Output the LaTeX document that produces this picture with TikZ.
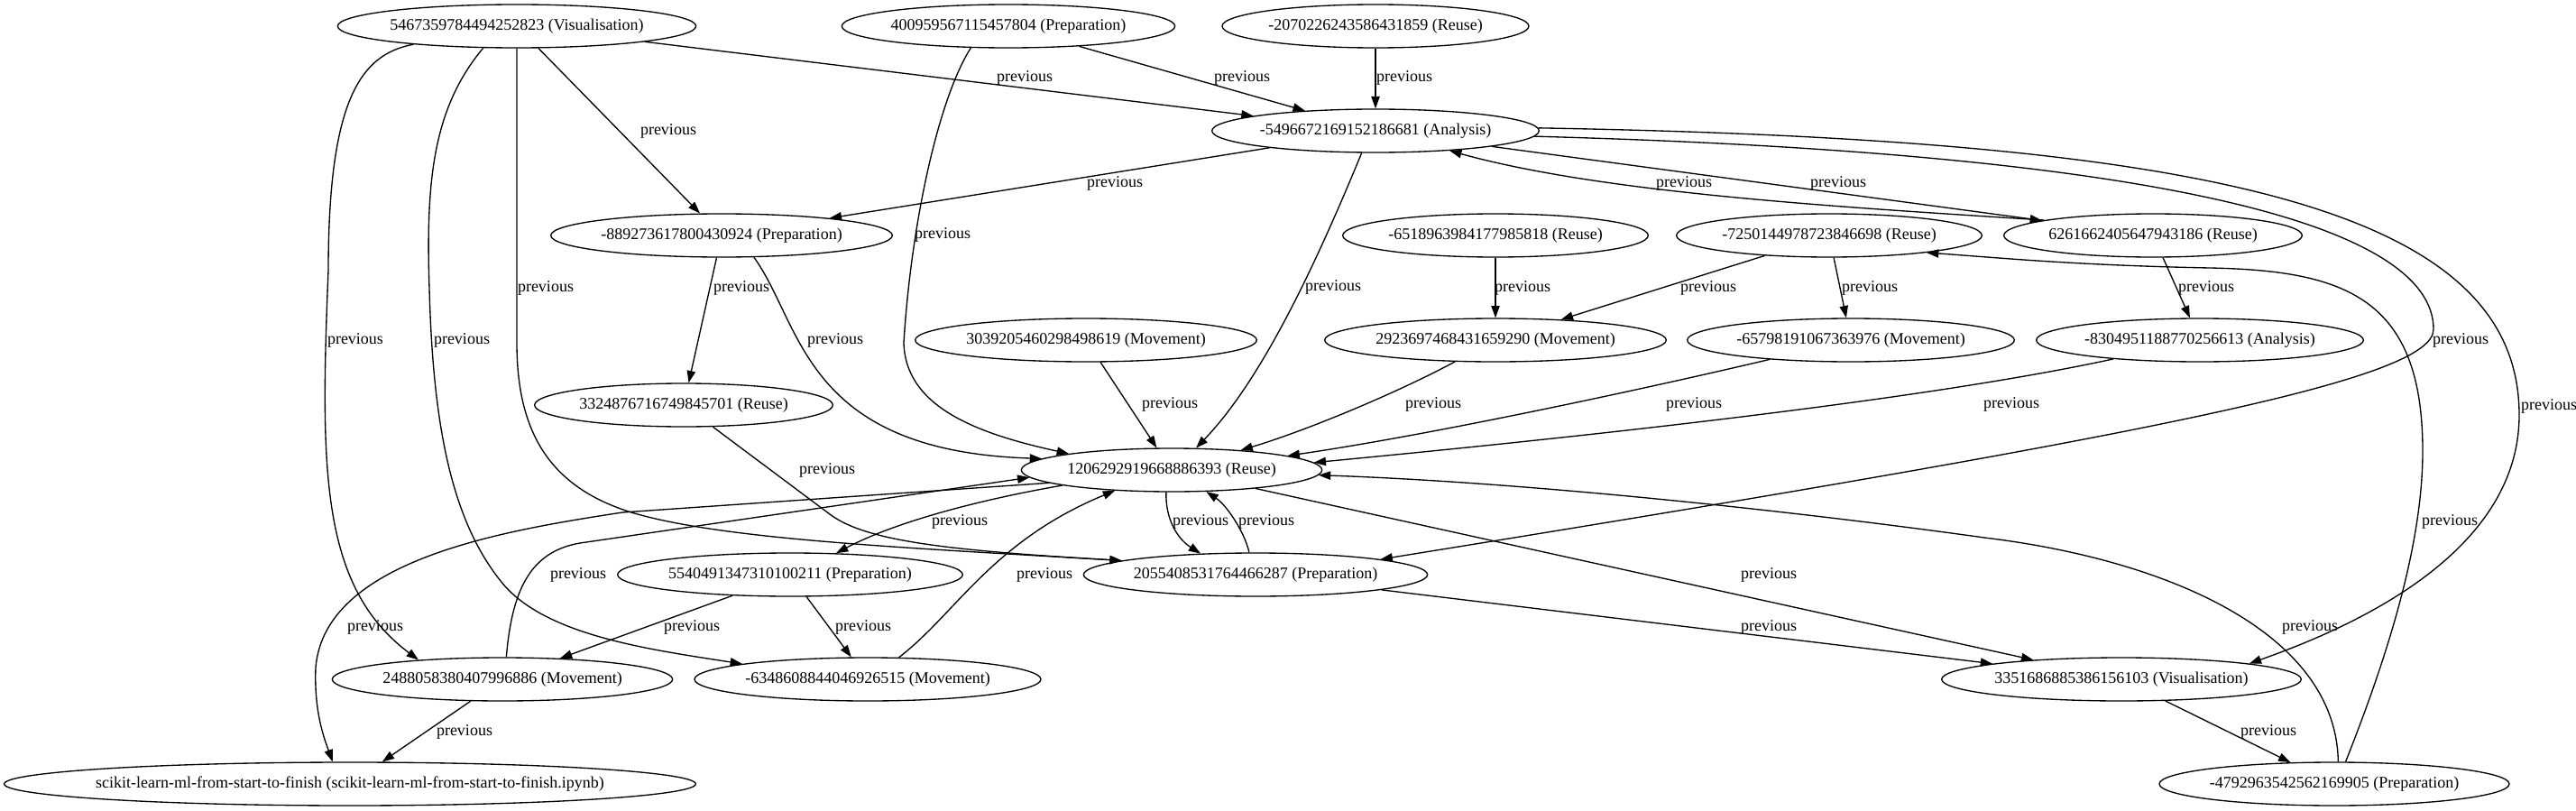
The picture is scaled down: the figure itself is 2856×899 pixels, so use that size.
\documentclass[tikz,border=0pt]{standalone}
\usepackage{fontspec}
\setmainfont{Liberation Serif}
\usepackage{tikz}
\usetikzlibrary{arrows.meta,shapes.geometric}

\begin{document}
\begin{tikzpicture}[
  x=0.75pt, y=-0.75pt,
  every node/.style={font=\fontsize{13.5}{16}\selectfont},
  entry/.style={ellipse, draw, line width=1pt, minimum height=36pt, inner xsep=-20pt, inner ysep=0pt},
  edge_label/.style={inner sep=0pt},
  arrow/.style={-{Triangle[length=10pt,width=7pt]}, line width=1pt}
]
\useasboundingbox (0,0) rectangle (2856,899);

% Row 1
\node[entry, minimum width=298pt] (V1) at (573,29) {5467359784494252823 (Visualisation)};
\node[entry, minimum width=277pt] (P1) at (1118,29) {400959567115457804 (Preparation)};
\node[entry, minimum width=255pt] (R1) at (1525,29) {-2070226243586431859 (Reuse)};

% Row 2
\node[entry, minimum width=272pt] (A1) at (1525,145) {-5496672169152186681 (Analysis)};

% Row 3
\node[entry, minimum width=284pt] (P2) at (800,261) {-889273617800430924 (Preparation)};
\node[entry, minimum width=254pt] (R2) at (1658,261) {-6518963984177985818 (Reuse)};
\node[entry, minimum width=254pt] (R3) at (2028,261) {-7250144978723846698 (Reuse)};
\node[entry, minimum width=248pt] (R4) at (2387,261) {6261662405647943186 (Reuse)};

% Row 4
\node[entry, minimum width=284pt] (M1) at (1204,377) {3039205460298498619 (Movement)};
\node[entry, minimum width=284pt] (M2) at (1658,377) {2923697468431659290 (Movement)};
\node[entry, minimum width=272pt] (M3) at (2052,377) {-65798191067363976 (Movement)};
\node[entry, minimum width=272pt] (A2) at (2439,377) {-8304951188770256613 (Analysis)};
\node[entry, minimum width=248pt] (R5) at (758,449) {3324876716749845701 (Reuse)};

% Row 5
\node[entry, minimum width=250pt] (R6) at (1299,521) {1206292919668886393 (Reuse)};

% Row 6
\node[entry, minimum width=287pt] (P3) at (876,637) {5540491347310100211 (Preparation)};
\node[entry, minimum width=286pt] (P4) at (1392,637) {2055408531764466287 (Preparation)};

% Row 7
\node[entry, minimum width=283pt] (M4) at (557,753) {2488058380407996886 (Movement)};
\node[entry, minimum width=288pt] (M5) at (962,753) {-6348608844046926515 (Movement)};
\node[entry, minimum width=299pt] (V2) at (2352,753) {3351686885386156103 (Visualisation)};

% Row 8
\node[entry, minimum width=575pt] (NB) at (388,869) {scikit-learn-ml-from-start-to-finish (scikit-learn-ml-from-start-to-finish.ipynb)};
\node[entry, minimum width=291pt] (P5) at (2588,869) {-4792963542562169905 (Preparation)};

% Edges into the analysis step
\draw[arrow] (V1) -- (A1) node[edge_label, at={(1136,86)}] {previous};
\draw[arrow] (P1) -- (A1) node[edge_label, at={(1377,86)}] {previous};
\draw[arrow] (R1) -- (A1) node[edge_label, at={(1557,86)}] {previous};
\draw[arrow] (V1) -- (P2) node[edge_label, at={(741,145)}] {previous};
\draw[arrow] (A1) -- (P2) node[edge_label, at={(1236,203)}] {previous};
\draw[arrow] (A1) -- (R4) node[edge_label, at={(2038,203)}] {previous};
\draw[arrow] (R4.172) .. controls (2050,230) and (1780,215) .. (A1.345) node[edge_label, at={(1867,203)}] {previous};

% Long arcs on the right
\draw[arrow] (A1.1) .. controls (2450,155) and (2793,230) .. (2793,460) .. controls (2793,580) and (2680,670) .. (V2.7) node[edge_label, at={(2826,450)}] {previous};
\draw[arrow] (A1.358) .. controls (2400,170) and (2698,250) .. (2698,365) .. controls (2698,420) and (2400,480) .. (P4.7) node[edge_label, at={(2728,377)}] {previous};
\draw[arrow] (P5.63) .. controls (2650,720) and (2686,600) .. (2686,500) .. controls (2686,330) and (2600,300) .. (2450,297) .. controls (2300,294) and (2220,286) .. (R3.350) node[edge_label, at={(2716,578)}] {previous};
\draw[arrow] (P5.80) .. controls (2590,700) and (2400,620) .. (2200,596) .. controls (2000,568) and (1700,535) .. (R6.358) node[edge_label, at={(2561,695)}] {previous};

% Row 3 to row 4
\draw[arrow] (R2) -- (M2) node[edge_label, at={(1688,319)}] {previous};
\draw[arrow] (R3) -- (M2) node[edge_label, at={(1894,319)}] {previous};
\draw[arrow] (R3) -- (M3) node[edge_label, at={(2073,319)}] {previous};
\draw[arrow] (R4) -- (A2) node[edge_label, at={(2446,319)}] {previous};
\draw[arrow] (P2) -- (R5) node[edge_label, at={(822,319)}] {previous};

% Into the reuse hub
\draw[arrow] (P1.210) .. controls (1040,110) and (1010,250) .. (1002,380) .. controls (1004,450) and (1080,480) .. (R6.171) node[edge_label, at={(1045,260)}] {previous};
\draw[arrow] (A1.238) .. controls (1460,290) and (1400,420) .. (R6.42) node[edge_label, at={(1478,318)}] {previous};
\draw[arrow] (P2.326) .. controls (890,360) and (890,500) .. (R6.175) node[edge_label, at={(926,377)}] {previous};
\draw[arrow] (M1) -- (R6.124) node[edge_label, at={(1297,448)}] {previous};
\draw[arrow] (M2) .. controls (1540,440) and (1440,480) .. (R6.16) node[edge_label, at={(1589,448)}] {previous};
\draw[arrow] (M3) .. controls (1850,425) and (1600,480) .. (R6.7) node[edge_label, at={(1878,448)}] {previous};
\draw[arrow] (A2) .. controls (2150,440) and (1800,480) .. (R6.3) node[edge_label, at={(2230,448)}] {previous};
\draw[arrow] (M4.80) .. controls (568,650) and (590,608) .. (650,601) -- (R6.183) node[edge_label, at={(641,637)}] {previous};
\draw[arrow] (M5.35) .. controls (1060,680) and (1100,600) .. (R6.200) node[edge_label, at={(1158,637)}] {previous};
\draw[arrow] (P4.106) .. controls (1380,590) and (1360,560) .. (R6.328) node[edge_label, at={(1404,578)}] {previous};

% Left side arcs from the first visualisation
\draw[arrow] (V1.190) .. controls (400,60) and (364,110) .. (364,300) .. controls (355,520) and (355,650) .. (M4.167) node[edge_label, at={(394,377)}] {previous};
\draw[arrow] (V1.213) .. controls (480,120) and (472,200) .. (476,320) .. controls (480,470) and (500,580) .. (560,650) .. controls (610,705) and (720,720) .. (M5.173) node[edge_label, at={(512,377)}] {previous};
\draw[arrow] (V1.270) -- (573,380) .. controls (573,480) and (610,540) .. (700,568) .. controls (800,598) and (1000,607) .. (P4.174) node[edge_label, at={(605,319)}] {previous};
\draw[arrow] (R5) -- (920,570) .. controls (960,600) and (1050,610) .. (P4.174) node[edge_label, at={(917,521)}] {previous};

% Out of the reuse hub
\draw[arrow] (R6.256) .. controls (1292,575) and (1305,597) .. (P4.159) node[edge_label, at={(1331,578)}] {previous};
\draw[arrow] (R6.188) .. controls (1080,555) and (990,580) .. (P3.25) node[edge_label, at={(1064,578)}] {previous};
\draw[arrow] (R6.186) -- (690,568) .. controls (560,588) and (360,620) .. (350,740) .. controls (348,790) and (360,820) .. (NB.128) node[edge_label, at={(416,695)}] {previous};
\draw[arrow] (R6) -- (V2) node[edge_label, at={(1961,637)}] {previous};

% Lower rows
\draw[arrow] (P3) -- (M4) node[edge_label, at={(767,695)}] {previous};
\draw[arrow] (P3) -- (M5) node[edge_label, at={(957,695)}] {previous};
\draw[arrow] (M4) -- (NB) node[edge_label, at={(515,811)}] {previous};
\draw[arrow] (P4) -- (V2) node[edge_label, at={(1961,695)}] {previous};
\draw[arrow] (V2) -- (P5) node[edge_label, at={(2515,811)}] {previous};

\end{tikzpicture}
\end{document}
